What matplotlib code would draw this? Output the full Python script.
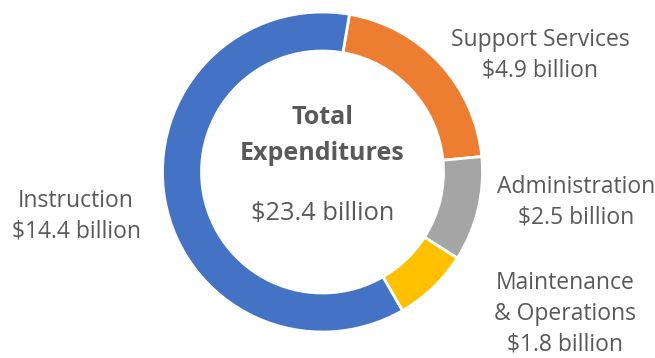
import matplotlib.pyplot as plt

categories = ["Support Services", "Administration", "Maintenance\n& Operations", "Instruction"]
values = [4.9, 2.5, 1.8, 14.4]
colors = ["#ED7D31", "#A5A5A5", "#FFC000", "#4472C4"]
total_label = "$23.4 billion"

plt.rcParams['font.family'] = ['Open Sans', 'DejaVu Sans']
txt = "#595959"

fig = plt.figure(figsize=(6.55, 3.58), dpi=100)
ax = fig.add_axes([0, 0, 1, 1])

# ring in pixel units: center (322.5, 186), outer radius 160
cx, cy, r = 322.5, 186, 160
ax.pie(values, colors=colors, radius=r, center=(cx, cy), startangle=80.3,
       counterclock=False,
       wedgeprops=dict(width=39, edgecolor="white", linewidth=2))
ax.set_xlim(0, 655)
ax.set_ylim(0, 358)
ax.axis("off")

# slice labels
label_pos = [(540, 302.5), (576, 155.5), (565, 44.5), (76, 142)]
for name, v, (x, y) in zip(categories, values, label_pos):
    ax.text(x, y, f"{name}\n${v} billion", ha="center", va="center",
            fontsize=16.5, color=txt, linespacing=1.38)

# center text
ax.text(cx, 222.5, "Total\nExpenditures", ha="center", va="center",
        fontsize=18, fontweight="bold", color=txt, linespacing=1.6)
ax.text(cx, 145, total_label, ha="center", va="center", fontsize=18.3, color=txt)

plt.savefig("out.png", dpi=100)
